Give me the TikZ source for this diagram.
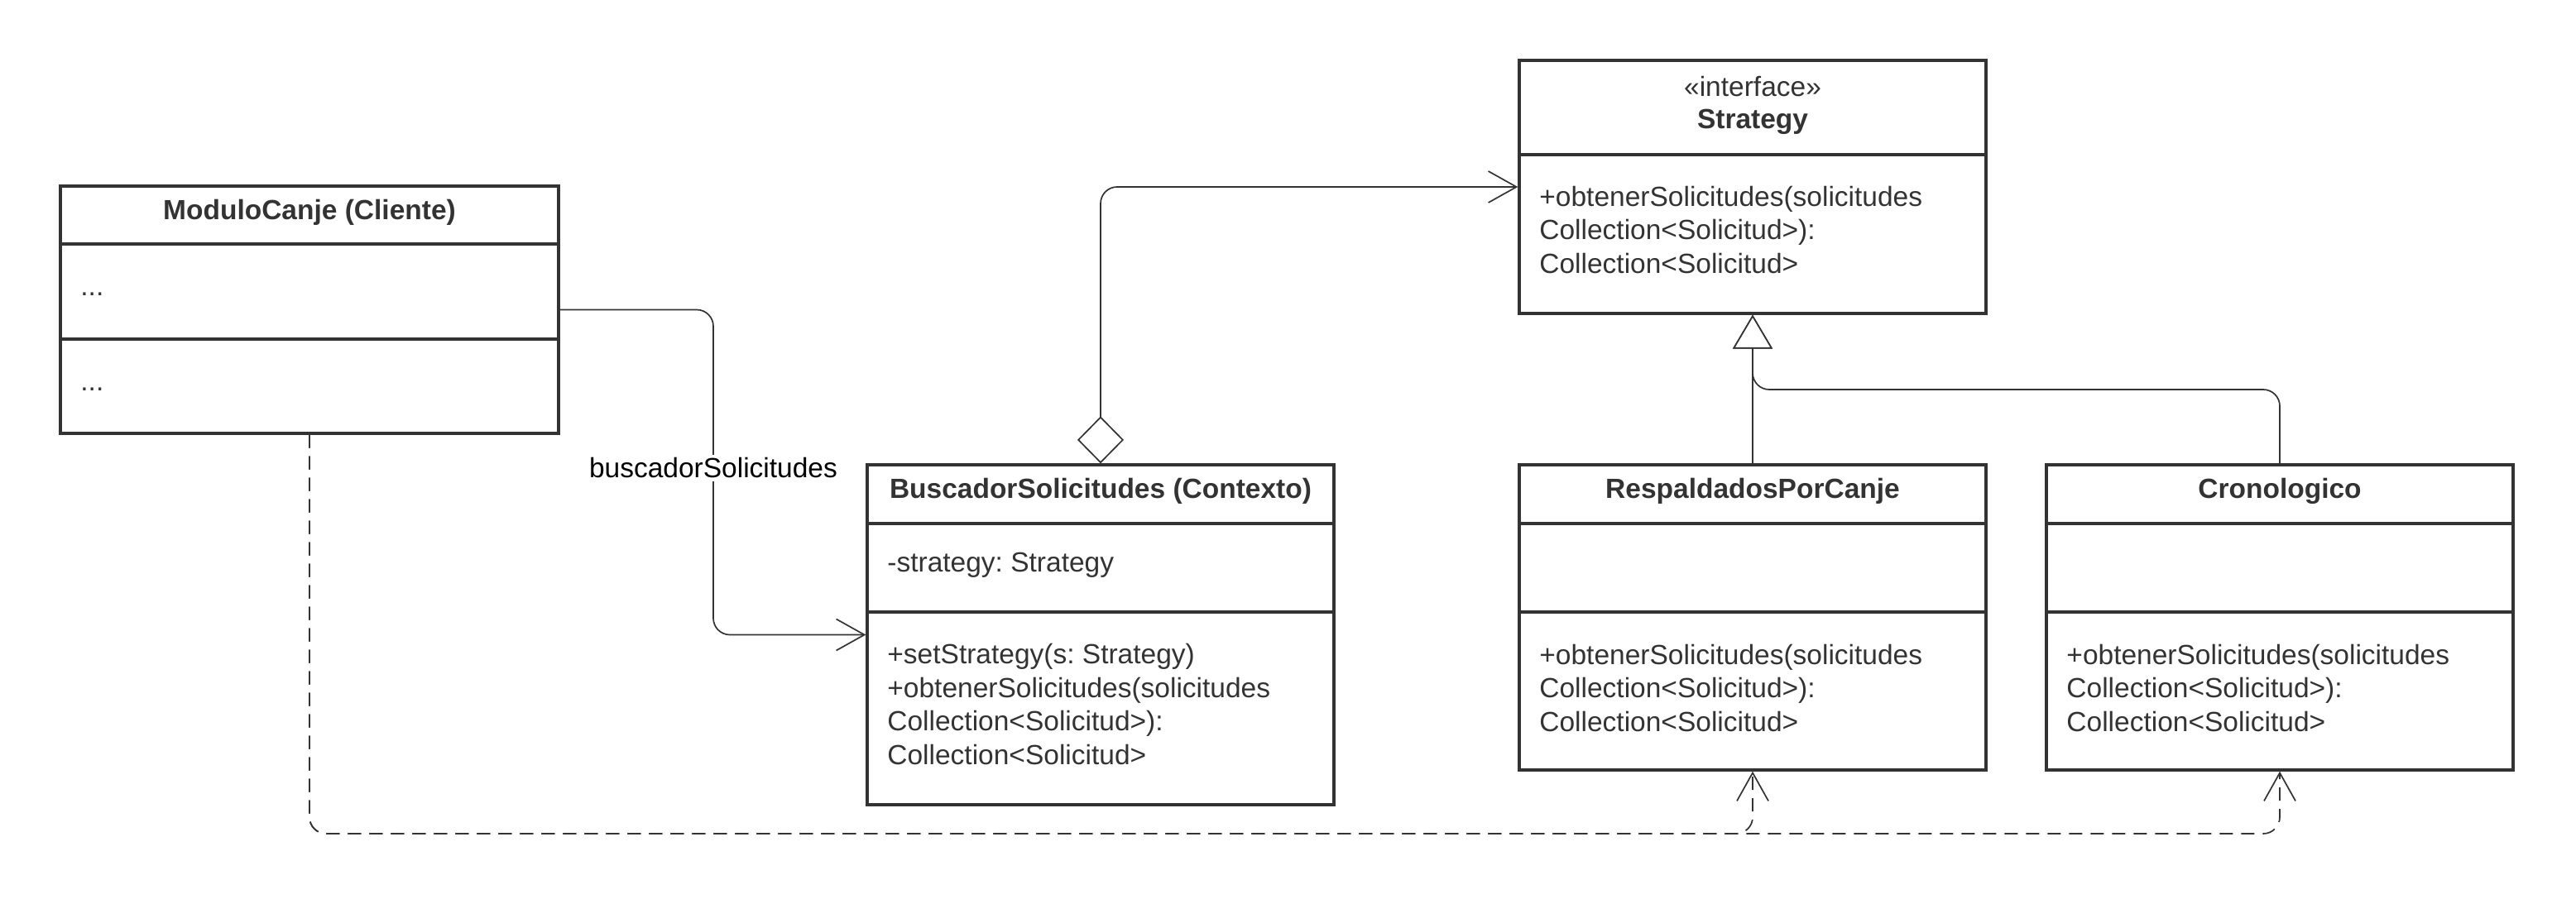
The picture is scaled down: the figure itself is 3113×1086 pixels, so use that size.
\documentclass[tikz,border=0pt]{standalone}
\usepackage{fontspec}
\setmainfont{Liberation Sans}
\usetikzlibrary{arrows.meta}
\definecolor{ink}{HTML}{333333}
\frenchspacing

\begin{document}
\begin{tikzpicture}[x=0.5pt, y=-0.5pt,
  font=\fontsize{16.75}{20.25}\selectfont,
  classbox/.style={draw=ink, line width=1.65pt, minimum width=#1, inner sep=0pt},
  classbox/.default=282pt,
  sepline/.style={draw=ink, line width=1.65pt},
  title/.style={text=ink, font=\fontsize{16.75}{20.25}\selectfont\bfseries, inner sep=0pt},
  members/.style={text=ink, anchor=west, align=left, inner sep=0pt},
  conn/.style={draw=ink, line width=0.85pt, rounded corners=10pt},
  depend/.style={conn, dash pattern=on 8pt off 5pt},
  openarrow/.style={-{Straight Barb[length=17pt, width=19pt, line width=0.85pt]}},
]
\useasboundingbox (0,0) rectangle (3113,1086);

% ---------- class boxes ----------
\node[classbox=301pt, minimum height=149.5pt] (mod) at (374,374.5) {};
\node[classbox, minimum height=205.5pt] (busc)  at (1330,767.5) {};
\node[classbox, minimum height=153pt]   (strat) at (2118,226) {};
\node[classbox, minimum height=184.5pt] (resp)  at (2118,746.5) {};
\node[classbox, minimum height=184.5pt] (crono) at (2755,746.5) {};

% compartment separators
\draw[sepline] (mod.west |- 0,295) -- (mod.east |- 0,295);
\draw[sepline] (mod.west |- 0,410) -- (mod.east |- 0,410);
\draw[sepline] (busc.west |- 0,633) -- (busc.east |- 0,633);
\draw[sepline] (busc.west |- 0,740) -- (busc.east |- 0,740);
\draw[sepline] (strat.west |- 0,187) -- (strat.east |- 0,187);
\draw[sepline] (resp.west |- 0,633) -- (resp.east |- 0,633);
\draw[sepline] (resp.west |- 0,740) -- (resp.east |- 0,740);
\draw[sepline] (crono.west |- 0,633) -- (crono.east |- 0,633);
\draw[sepline] (crono.west |- 0,740) -- (crono.east |- 0,740);

% ---------- texts ----------
\node[title] (modT) at (374,257) {ModuloCanje (Cliente)};
\node[members, anchor=base west] (modA) at (97,357) {...};
\node[members, anchor=base west] (modO) at (97,472) {...};

\node[title] (buscT) at (1330,594) {BuscadorSolicitudes (Contexto)};
\node[members] (buscA) at (1072,683) {-strategy: Strategy};
\node[members] (buscO) at (1072,851.5) {+setStrategy(s: Strategy)\\+obtenerSolicitudes(solicitudes\\Collection<Solicitud>):\\Collection<Solicitud>};

\node[text=ink, inner sep=0pt] (stratS) at (2118,105) {«interface»};
\node[title] (stratT) at (2118,147) {Strategy};
\node[members] (stratO) at (1860,278) {+obtenerSolicitudes(solicitudes\\Collection<Solicitud>):\\Collection<Solicitud>};

\node[title] (respT) at (2118,594) {RespaldadosPorCanje};
\node[members] (respO) at (1860,832) {+obtenerSolicitudes(solicitudes\\Collection<Solicitud>):\\Collection<Solicitud>};

\node[title] (cronoT) at (2755,594) {Cronologico};
\node[members] (cronoO) at (2497,832) {+obtenerSolicitudes(solicitudes\\Collection<Solicitud>):\\Collection<Solicitud>};

% ---------- connectors ----------
% association ModuloCanje -> BuscadorSolicitudes
\coordinate (assocbend) at (862,566);
\draw[conn, openarrow] (mod.east) -| (assocbend) |- (busc.west);
\node[fill=white, text=black, inner sep=2pt] (assocL) at (assocbend) {buscadorSolicitudes};

% aggregation BuscadorSolicitudes <>-> Strategy
\draw[conn, {Diamond[open, fill=white, length=28.5pt, width=28pt, line width=0.85pt]}-{Straight Barb[length=17pt, width=19pt, line width=0.85pt]}]
  (busc.north) |- (strat.west);

% realization of Strategy
\coordinate (genjoin) at (2118,471);
\draw[conn, -{Triangle[open, fill=white, length=20.5pt, width=24pt, line width=0.85pt]}]
  (resp.north) -- (strat.south);
\draw[conn, -{Triangle[open, fill=white, length=20.5pt, width=24pt, line width=0.85pt]}]
  (crono.north) |- (genjoin) -- (strat.south);

% dependencies of ModuloCanje on the concrete strategies
\coordinate (depR) at (2118,1008);
\coordinate (depC) at (2755,1008);
\draw[depend, openarrow] (mod.south) |- (depR) -- (resp.south);
\draw[depend, openarrow] (mod.south) |- (depC) -- (crono.south);
\end{tikzpicture}
\end{document}
